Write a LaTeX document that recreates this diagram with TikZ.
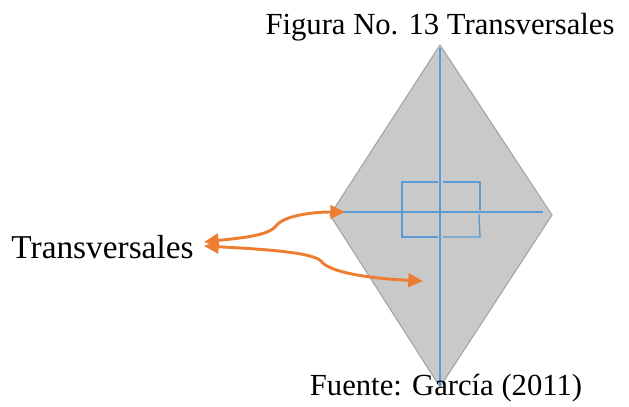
\documentclass[tikz,border=0pt]{standalone}
\usepackage{fontspec}
\setmainfont{Liberation Serif}
\usetikzlibrary{arrows.meta}
\definecolor{kitefill}{HTML}{C9C9C9}
\definecolor{kiteedge}{HTML}{A3A3A3}
\definecolor{axisblue}{HTML}{5B9BD5}
\definecolor{pointer}{HTML}{ED7D31}
\tikzset{
  kite/.style={fill=kitefill, draw=kiteedge, line width=0.8pt},
  axis/.style={draw=axisblue, line width=1pt},
  pointerline/.style={draw=pointer, line width=2.2pt,
    arrows={Triangle[length=11pt,width=10pt]-Triangle[length=11pt,width=10pt]}},
  caption/.style={font=\fontsize{23pt}{27pt}\selectfont, inner sep=0pt}
}
\begin{document}
\begin{tikzpicture}[x=0.75pt, y=-0.75pt]
  \useasboundingbox (0,0) rectangle (629,407);
  % kite outline
  \coordinate (top) at (440,45);
  \coordinate (right) at (552,215);
  \coordinate (bottom) at (440,387);
  \coordinate (left) at (330,215);
  \path[kite] (top) -- (right) -- (bottom) -- (left) -- cycle;
  % axes
  \draw[axis] (343,212) -- (543,212);
  \draw[axis] (440,48) -- (440,386);
  % small box split by the vertical axis
  \draw[axis] (438,182) -- (402,182) -- (402,237) -- (438,237);
  \draw[axis] (443,182) -- (480,182) -- (480,210);
  \draw[axis] (479,214) -- (480,237) -- (443,237);
  % labels
  \node[caption] (title) at (440,27) {Figura No. 13 Transversales};
  \node[caption, font=\fontsize{25pt}{29pt}\selectfont] (label) at (102.5,247) {Transversales};
  \node[caption] (source) at (446,388) {Fuente: García (2011)};
  % pointers
  \coordinate (upA) at (204,242);
  \coordinate (upB) at (345,212);
  \coordinate (loA) at (204,246);
  \coordinate (loB) at (423,281);
  \draw[pointerline] (upA) .. controls (240,238) and (268,236) .. (276,226)
     .. controls (284,215) and (315,212) .. (upB);
  \draw[pointerline] (loA) .. controls (260,249) and (312,252) .. (321,261)
     .. controls (330,274) and (380,279) .. (loB);
\end{tikzpicture}
\end{document}
